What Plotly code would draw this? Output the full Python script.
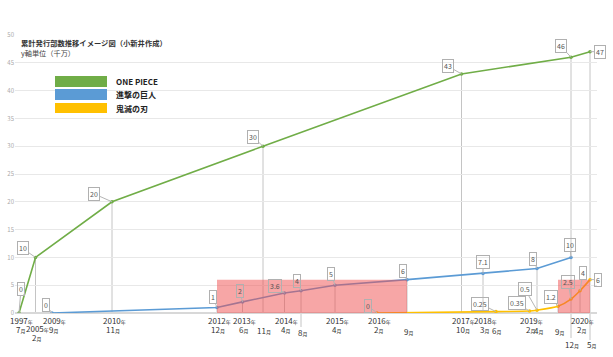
import plotly.graph_objects as go

# ---------------- data ----------------
# timeline (axis is an illustrative, non-proportional timeline)
dates = ["1997/7", "2005/2", "2009/9", "2010/11", "2012/12", "2013/6", "2013/11",
         "2014/4", "2014/8", "2015/4", "2016/2", "2016/9", "2017/10", "2018/3",
         "2018/6", "2019/2", "2019/4", "2019/9", "2019/12", "2020/2", "2020/5"]
timeline_pos = [4, 20.5, 37, 97, 202, 227.5, 248, 269.5, 286, 320, 362, 392,
                446.5, 468, 481, 514.5, 522, 543, 556, 565, 575]

op_dates = ["1997/7", "2005/2", "2010/11", "2013/11", "2017/10", "2019/12", "2020/5"]
op_values = [0, 10, 20, 30, 43, 46, 47]

aot_dates = ["2009/9", "2012/12", "2013/6", "2014/4", "2014/8", "2015/4", "2016/9",
             "2018/3", "2019/4", "2019/12"]
aot_values = [0, 1, 2, 3.6, 4, 5, 6, 7.1, 8, 10]

kny_dates = ["2016/2", "2018/6", "2019/2", "2019/4", "2019/9", "2019/12", "2020/2", "2020/5"]
kny_values = [0, 0.25, 0.35, 0.5, 1.2, 2.5, 4, 6]

highlight_ranges = [("2012/12", "2016/9"), ("2019/9", "2020/5")]
highlight_top = 6

series_names = ["ONE PIECE", "進撃の巨人", "鬼滅の刃"]
title_text = "累計発行部数推移イメージ図（小新井作成）"
unit_text = "y軸単位（千万）"

# ---------------- styling ----------------
colors = ["#70AD47", "#5B9BD5", "#FFC000"]
op_label_off = [(2, -24), (-13, -9), (-18, -8), (-10, -9), (-14, -8), (-10, -11), (10, 0)]
aot_label_off = [(-6, -8), (-4, -10), (-3, -11), (-10, -7), (-4, -10), (-4, -11), (-4, -9),
                 (0, -12), (-4, -10), (-1, -12)]
kny_label_off = [(-9, -7), (-16, -8), (-13, -8), (-12, -21), (-7, -9), (-3, -17), (3, -18), (8, 0)]

# tick label rows (pixel y) : (show year, year y, month y)
tick_rows = {
    "2005/2": (True, 328, 337),
    "2013/11": (False, None, 330),
    "2014/8": (False, None, 332),
    "2016/9": (False, None, 331),
    "2018/6": (False, None, 330),
    "2019/4": (False, None, 330),
    "2019/9": (False, None, 331),
    "2019/12": (False, None, 344),
    "2020/5": (False, None, 344),
}
drop_extend = {"2014/8": 327, "2019/12": 338, "2020/5": 340}

W, H = 613, 357
ML, MR, MT, MB = 15, 16, 35, 44
PW, PH = W - ML - MR, H - MT - MB
pos = dict(zip(dates, timeline_pos))


def px(xp):
    return (xp - ML) / PW


def py(yp):
    return (MT + PH - yp) / PH


FONT = "Noto Sans CJK JP"

fig = go.Figure()

series = [(op_dates, op_values, op_label_off, "linear"),
          (aot_dates, aot_values, aot_label_off, "linear"),
          (kny_dates, kny_values, kny_label_off, "spline")]

for i, (d, v, off, shape) in enumerate(series):
    fig.add_trace(go.Scatter(
        x=[pos[k] for k in d], y=v, mode="lines+markers",
        line=dict(color=colors[i], width=1.6, shape=shape, smoothing=0.7),
        marker=dict(color=colors[i], size=3.5), name=series_names[i],
        showlegend=False, hoverinfo="skip"))

# drop lines from highest point at each date
maxv = {}
for d, v, _, _ in series:
    for k, val in zip(d, v):
        maxv[k] = max(maxv.get(k, 0), val)

shapes = []
for k, val in maxv.items():
    shapes.append(dict(type="line", xref="x", yref="y", x0=pos[k], x1=pos[k], y0=0, y1=val,
                       line=dict(color="#c4c4c4", width=1), layer="below"))
    if k in drop_extend:
        shapes.append(dict(type="line", xref="paper", yref="paper", x0=px(pos[k] + ML),
                           x1=px(pos[k] + ML), y0=0, y1=py(drop_extend[k]),
                           line=dict(color="#c4c4c4", width=1), layer="below"))

for a, b in highlight_ranges:
    shapes.append(dict(type="rect", xref="x", yref="y", x0=pos[a], x1=pos[b], y0=0,
                       y1=highlight_top, fillcolor="rgba(240,78,78,0.5)",
                       line=dict(width=0), layer="above"))

# legend swatches
leg_y = [(76, 87), (89, 100), (103, 113)]
for i, (y0, y1) in enumerate(leg_y):
    shapes.append(dict(type="rect", xref="paper", yref="paper", x0=px(55), x1=px(107),
                       y0=py(y1), y1=py(y0), fillcolor=colors[i], line=dict(width=0)))

annotations = []
# value labels
for d, v, off, _ in series:
    for k, val, (ox, oy) in zip(d, v, off):
        annotations.append(dict(
            x=pos[k], y=val, xref="x", yref="y", text=f"{val:g}", showarrow=True,
            ax=ox, ay=oy, arrowhead=0, arrowwidth=1, arrowcolor="#b5b5b5", standoff=0,
            font=dict(family=FONT, size=7, color="#555"), bordercolor="#b0b0b0",
            borderwidth=1, borderpad=1, bgcolor="rgba(0,0,0,0)"))

# x tick labels
for k in dates:
    yr, mo = k.split("/")
    show_year, yy, my = tick_rows.get(k, (True, 320, 329))
    xpaper = px(pos[k] + ML)
    if show_year:
        annotations.append(dict(x=xpaper, y=py(yy), xref="paper", yref="paper", showarrow=False,
                                xanchor="center", yanchor="middle",
                                text=f"{yr}<span style='font-size:5px'>年</span>",
                                font=dict(family=FONT, size=8, color="#333"), xshift=2))
    annotations.append(dict(x=xpaper, y=py(my), xref="paper", yref="paper", showarrow=False,
                            xanchor="center", yanchor="middle",
                            text=f"{mo}<span style='font-size:5px'>月</span>",
                            font=dict(family=FONT, size=8, color="#333"), xshift=1))

# title and legend text
annotations.append(dict(x=px(19), y=py(43), xref="paper", yref="paper", showarrow=False,
                        xanchor="left", yanchor="middle", text=f"<b>{title_text}</b>",
                        font=dict(family=FONT, size=7.3, color="#333")))
annotations.append(dict(x=px(19), y=py(53), xref="paper", yref="paper", showarrow=False,
                        xanchor="left", yanchor="middle", text=unit_text,
                        font=dict(family=FONT, size=7.2, color="#444")))
for i, (y0, y1) in enumerate(leg_y):
    annotations.append(dict(x=px(114), y=py((y0 + y1) / 2), xref="paper", yref="paper",
                            showarrow=False, xanchor="left", yanchor="middle",
                            text=f"<b>{series_names[i]}</b>",
                            font=dict(family=FONT, size=8, color="#222")))

fig.update_layout(
    width=W, height=H, margin=dict(l=ML, r=MR, t=MT, b=MB, autoexpand=False),
    paper_bgcolor="white", plot_bgcolor="white",
    xaxis=dict(range=[0, PW], showgrid=False, showticklabels=False, zeroline=False,
               showline=False, fixedrange=True, automargin=False),
    yaxis=dict(range=[0, 50], dtick=5, showgrid=True, gridcolor="#e8e8e8", gridwidth=1,
               zeroline=True, zerolinecolor="#d8d8d8", showline=False, automargin=False,
               tickfont=dict(family=FONT, size=6, color="#aaa"), ticks="", fixedrange=True),
    shapes=shapes, annotations=annotations, showlegend=False,
)

fig.write_html("out.html", config={"displayModeBar": False},
               post_script="document.body.style.margin='0px';document.body.style.overflow='hidden';")
